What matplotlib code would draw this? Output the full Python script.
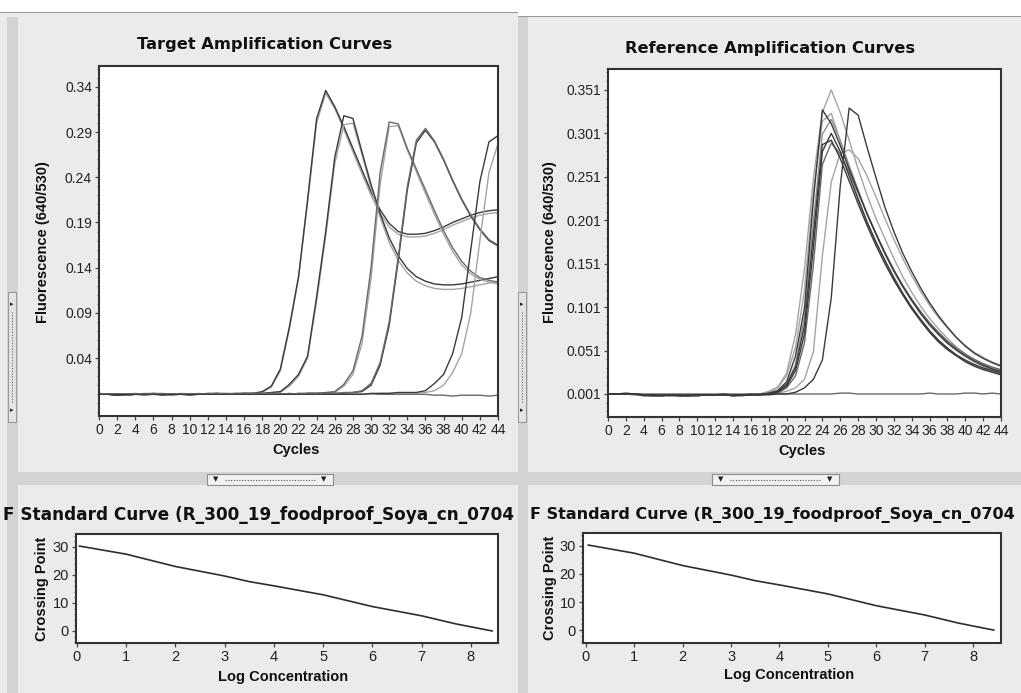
import matplotlib
matplotlib.use("Agg")
import matplotlib.pyplot as plt
from matplotlib.patches import Rectangle
from matplotlib.lines import Line2D
from matplotlib.ticker import FixedLocator, MultipleLocator, FormatStrFormatter
from matplotlib.transforms import Bbox, TransformedBbox

plt.rcParams['font.family'] = ['Liberation Sans', 'DejaVu Sans']

W, H = 1021, 693

# ---- data ----
cycles = list(range(45))

# Target amplification curves (fluorescence 640/530, one value per cycle 0..44)
t_pair1_dark = [0.000, 0.000, -0.001, -0.001, 0.000, 0.000, 0.001, 0.000, 0.000, 0.000, -0.001, 0.000, 0.000, 0.001, 0.000, 0.001, 0.001, 0.001,
                0.003, 0.009, 0.028, 0.075, 0.130, 0.215, 0.305, 0.336, 0.318, 0.296, 0.272, 0.248, 0.224, 0.204, 0.189, 0.180, 0.177,
                0.177, 0.178, 0.181, 0.185, 0.190, 0.194, 0.198, 0.201, 0.203, 0.204]
t_pair1_light = [0.001, 0.000, 0.000, -0.001, 0.000, 0.001, 0.001, 0.001, 0.000, 0.000, 0.000, 0.001, 0.000, 0.001, 0.001, 0.001, 0.001, 0.001,
                 0.002, 0.008, 0.026, 0.072, 0.128, 0.212, 0.300, 0.333, 0.316, 0.293, 0.268, 0.244, 0.220, 0.200, 0.185, 0.177, 0.174,
                 0.174, 0.175, 0.178, 0.182, 0.187, 0.191, 0.195, 0.198, 0.200, 0.201]
t_pair2_dark = [0.000, 0.000, -0.001, 0.000, 0.000, 0.000, 0.000, -0.001, 0.000, 0.000, 0.000, 0.000, 0.001, 0.001, 0.000, 0.000, 0.001, 0.001, 0.001, 0.002,
                0.003, 0.011, 0.022, 0.042, 0.108, 0.180, 0.262, 0.308, 0.305, 0.268, 0.232, 0.200, 0.173, 0.153, 0.139, 0.130, 0.125,
                0.122, 0.121, 0.121, 0.122, 0.124, 0.126, 0.128, 0.130]
t_pair2_light = [0.001, 0.000, 0.000, 0.000, 0.001, 0.000, 0.000, 0.000, 0.000, 0.001, 0.000, 0.000, 0.000, 0.001, 0.001, 0.000, 0.000, 0.001, 0.001, 0.001,
                 0.002, 0.009, 0.020, 0.040, 0.103, 0.175, 0.255, 0.298, 0.300, 0.265, 0.228, 0.196, 0.168, 0.148, 0.134, 0.125, 0.120,
                 0.117, 0.116, 0.116, 0.117, 0.119, 0.121, 0.123, 0.125]
t_pair3_mid = [0.000, 0.000, 0.000, 0.000, 0.000, -0.001, 0.000, 0.000, 0.000, 0.000, 0.000, 0.000, 0.000, 0.000, 0.000, 0.000, 0.001, 0.000, 0.000, 0.000,
               0.000, 0.001, 0.000, 0.001, 0.001, 0.002,
               0.003, 0.011, 0.026, 0.064, 0.140, 0.245, 0.301, 0.299, 0.272, 0.249, 0.226, 0.203, 0.181, 0.162, 0.147, 0.136, 0.129, 0.126, 0.124]
t_pair3_light = [0.001, 0.000, 0.000, 0.000, 0.000, 0.000, 0.001, 0.000, 0.000, 0.000, 0.000, 0.000, 0.000, 0.001, 0.000, 0.000, 0.000, 0.000, 0.000, 0.001,
                 0.000, 0.000, 0.001, 0.001, 0.001, 0.001,
                 0.002, 0.009, 0.022, 0.056, 0.128, 0.232, 0.296, 0.297, 0.270, 0.246, 0.222, 0.199, 0.177, 0.158, 0.143, 0.133, 0.127, 0.124, 0.122]
t_pair4_mid = [0.000, 0.000, 0.000, -0.001, 0.000, 0.000, 0.000, 0.000, 0.000, 0.000, 0.000, 0.000, 0.000, 0.000, 0.000, 0.000, 0.000, 0.001, 0.000, 0.000,
               0.000, 0.000, 0.001, 0.001, 0.001, 0.001, 0.001, 0.002, 0.002,
               0.004, 0.012, 0.035, 0.080, 0.152, 0.230, 0.281, 0.294, 0.280, 0.260, 0.237, 0.216, 0.198, 0.183, 0.171, 0.165]
t_pair4_dark = [0.000, 0.000, 0.000, 0.000, 0.000, 0.000, 0.000, 0.000, 0.000, 0.000, 0.000, 0.000, 0.000, 0.000, 0.000, 0.000, 0.000, 0.000, 0.000, 0.000,
                0.000, 0.000, 0.000, 0.001, 0.001, 0.001, 0.001, 0.001, 0.002,
                0.003, 0.010, 0.032, 0.076, 0.148, 0.226, 0.278, 0.292, 0.279, 0.259, 0.236, 0.215, 0.197, 0.182, 0.170, 0.164]
t_pair5_dark = [0.000, 0.000, 0.000, 0.000, 0.000, 0.000, 0.000, 0.000, 0.000, 0.000, 0.000, 0.000, 0.000, 0.000, 0.000, 0.000, 0.000, 0.000, 0.000, 0.000,
                0.000, 0.000, 0.000, 0.000, 0.000, 0.000, 0.000, 0.000, 0.000, 0.000, 0.001, 0.001, 0.001, 0.002, 0.002, 0.002,
                0.004, 0.012, 0.022, 0.045, 0.085, 0.160, 0.235, 0.279, 0.286]
t_pair5_light = [0.000, 0.000, 0.000, 0.000, 0.000, 0.000, 0.000, 0.000, 0.000, 0.000, 0.000, 0.000, 0.000, 0.000, 0.000, 0.000, 0.000, 0.000, 0.000, 0.000,
                 0.000, 0.000, 0.000, 0.000, 0.000, 0.000, 0.000, 0.000, 0.000, 0.000, 0.000, 0.001, 0.001, 0.001, 0.001, 0.001, 0.002,
                 0.004, 0.010, 0.024, 0.045, 0.090, 0.170, 0.245, 0.277]
t_negative = [0.000, 0.000, -0.001, -0.001, 0.000, 0.000, 0.000, 0.000, -0.001, 0.000, 0.000, 0.000, 0.000, 0.000, 0.000, 0.000, 0.000, 0.000, 0.000, 0.000,
              0.000, 0.000, 0.000, 0.000, 0.000, 0.000, 0.000, 0.000, 0.000, 0.000, 0.000, 0.000, 0.000, 0.000, 0.000, 0.000, 0.000,
              -0.001, -0.001, -0.002, -0.001, -0.001, -0.001, -0.002, -0.001]

# Reference amplification curves
r_early_light = [0.001, 0.001, 0.001, 0.000, -0.001, -0.001, 0.000, -0.001, -0.001, 0.000, -0.001, 0.000, 0.000, 0.000, 0.000, 0.000, 0.001, 0.001,
                 0.004, 0.009, 0.025, 0.070, 0.145, 0.250, 0.325, 0.351, 0.325, 0.293, 0.260, 0.230, 0.203, 0.180, 0.157, 0.136, 0.118,
                 0.102, 0.088, 0.076, 0.065, 0.055, 0.047, 0.040, 0.035, 0.031, 0.027]
r_early_dark = [0.001, 0.001, 0.002, 0.001, -0.001, -0.001, -0.001, 0.000, -0.001, -0.001, 0.000, 0.000, 0.000, 0.001, -0.001, 0.000, 0.001, 0.000,
                0.002, 0.005, 0.015, 0.045, 0.100, 0.225, 0.328, 0.312, 0.287, 0.260, 0.234, 0.208, 0.185, 0.163, 0.143, 0.125, 0.109,
                0.094, 0.081, 0.070, 0.060, 0.052, 0.045, 0.039, 0.034, 0.030, 0.027]
r_second_light = [0.001, 0.001, 0.001, 0.001, 0.000, -0.001, 0.000, 0.000, -0.001, 0.000, 0.000, 0.000, 0.001, 0.000, 0.000, 0.001, 0.001, 0.001,
                  0.003, 0.008, 0.022, 0.055, 0.120, 0.235, 0.315, 0.324, 0.292, 0.258, 0.227, 0.199, 0.175, 0.154, 0.134, 0.116, 0.100,
                  0.086, 0.073, 0.062, 0.053, 0.045, 0.039, 0.034, 0.030, 0.027, 0.024]
r_second_grey = [0.001, 0.001, 0.001, 0.000, 0.000, -0.001, -0.001, 0.000, 0.000, -0.001, 0.000, 0.000, 0.000, 0.000, -0.001, 0.000, 0.000, 0.001,
                 0.002, 0.004, 0.012, 0.035, 0.090, 0.200, 0.300, 0.317, 0.293, 0.264, 0.236, 0.209, 0.185, 0.162, 0.142, 0.124, 0.108,
                 0.093, 0.080, 0.069, 0.059, 0.051, 0.044, 0.038, 0.033, 0.029, 0.026]
r_mid_dark1 = [0.001, 0.001, 0.001, 0.001, 0.000, -0.001, -0.001, -0.001, -0.001, -0.001, -0.001, 0.000, 0.000, 0.000, -0.001, -0.001, 0.000, 0.000,
               0.001, 0.003, 0.010, 0.028, 0.070, 0.170, 0.280, 0.301, 0.280, 0.252, 0.225, 0.199, 0.176, 0.155, 0.135, 0.117, 0.101,
               0.087, 0.074, 0.063, 0.054, 0.046, 0.040, 0.035, 0.031, 0.028, 0.025]
r_mid_dark2 = [0.001, 0.001, 0.001, 0.001, 0.000, 0.000, -0.001, 0.000, -0.001, -0.001, -0.001, 0.000, 0.000, 0.000, -0.001, 0.000, 0.000, 0.001,
               0.001, 0.004, 0.012, 0.032, 0.080, 0.185, 0.288, 0.293, 0.272, 0.246, 0.220, 0.195, 0.172, 0.151, 0.132, 0.115, 0.099,
               0.085, 0.072, 0.061, 0.052, 0.045, 0.038, 0.033, 0.029, 0.026, 0.023]
r_mid_grey = [0.001, 0.001, 0.001, 0.001, 0.000, 0.000, 0.000, 0.000, 0.000, -0.001, 0.000, 0.000, 0.000, 0.000, 0.000, 0.000, 0.000, 0.000,
              0.001, 0.002, 0.008, 0.022, 0.060, 0.150, 0.265, 0.290, 0.277, 0.256, 0.233, 0.209, 0.186, 0.164, 0.144, 0.126, 0.110,
              0.096, 0.083, 0.072, 0.062, 0.054, 0.047, 0.041, 0.036, 0.032, 0.029]
r_late_light = [0.001, 0.001, 0.001, 0.001, 0.000, 0.000, 0.000, 0.000, 0.000, 0.000, 0.000, 0.000, 0.000, 0.000, 0.000, 0.000, 0.000, 0.000,
                0.001, 0.002, 0.004, 0.008, 0.018, 0.050, 0.160, 0.245, 0.278, 0.282, 0.272, 0.252, 0.228, 0.203, 0.179, 0.157, 0.137,
                0.119, 0.103, 0.089, 0.077, 0.066, 0.057, 0.049, 0.043, 0.038, 0.034]
r_late_dark = [0.001, 0.001, 0.001, 0.001, 0.000, 0.000, 0.000, 0.000, 0.000, 0.000, 0.000, 0.000, 0.000, 0.000, 0.000, 0.000, 0.000, 0.000,
               0.000, 0.001, 0.001, 0.003, 0.008, 0.018, 0.040, 0.112, 0.240, 0.330, 0.322, 0.285, 0.250, 0.216, 0.188, 0.163, 0.142,
               0.123, 0.106, 0.091, 0.078, 0.066, 0.056, 0.048, 0.042, 0.037, 0.033]
r_negative = [0.001, 0.001, 0.001, 0.001, 0.001, 0.001, 0.001, 0.001, 0.001, 0.001, 0.001, 0.001, 0.001, 0.001, 0.001, 0.001, 0.001, 0.001,
              0.001, 0.001, 0.001, 0.001, 0.001, 0.001, 0.001, 0.001, 0.002, 0.002, 0.001, 0.001, 0.001, 0.001, 0.001, 0.001, 0.001,
              0.001, 0.002, 0.001, 0.001, 0.001, 0.002, 0.002, 0.001, 0.002, 0.001]

# Standard curve (same in both panels)
log_conc = [0.05, 1.0, 2.0, 3.0, 3.5, 4.0, 5.0, 5.5, 6.0, 7.0, 7.7, 8.43]
crossing_point = [30.3, 27.4, 23.0, 19.6, 17.6, 16.1, 12.9, 10.8, 8.7, 5.4, 2.5, 0.0]

target_yticks = [0.04, 0.09, 0.14, 0.19, 0.24, 0.29, 0.34]
reference_yticks = [0.001, 0.051, 0.101, 0.151, 0.201, 0.251, 0.301, 0.351]
cycle_ticks = list(range(0, 45, 2))
std_xticks = [0, 1, 2, 3, 4, 5, 6, 7, 8]
std_yticks = [0, 10, 20, 30]

DARK, MID, LIGHT = '#3a3a3a', '#6a6a6a', '#a4a4a4'
PANEL, BAND = '#ebebeb', '#d3d3d3'

target_series = [(t_negative, MID), (t_pair1_light, LIGHT), (t_pair1_dark, DARK),
                 (t_pair2_light, LIGHT), (t_pair2_dark, DARK), (t_pair3_light, LIGHT),
                 (t_pair3_mid, MID), (t_pair4_dark, DARK), (t_pair4_mid, MID),
                 (t_pair5_light, LIGHT), (t_pair5_dark, DARK)]
reference_series = [(r_negative, MID), (r_early_light, LIGHT), (r_second_light, LIGHT),
                    (r_second_grey, '#909090'), (r_late_light, LIGHT), (r_mid_grey, MID),
                    (r_early_dark, DARK), (r_mid_dark1, DARK), (r_mid_dark2, DARK), (r_late_dark, DARK)]

fig = plt.figure(figsize=(W / 100, H / 100), dpi=100, facecolor=PANEL)


def add_ax(x0, y0, x1, y1):
    return fig.add_axes([x0 / W, 1 - y1 / H, (x1 - x0) / W, (y1 - y0) / H])


def rect(x0, y0, x1, y1, **kw):
    fig.add_artist(Rectangle((x0 / W, 1 - y1 / H), (x1 - x0) / W, (y1 - y0) / H,
                             transform=fig.transFigure, **kw))


def ftext(x, y, s, **kw):
    return fig.text(x / W, 1 - y / H, s, **kw)


def style(ax):
    ax.set_facecolor('white')
    for sp in ax.spines.values():
        sp.set_linewidth(1.5)
        sp.set_color('#333333')
    ax.tick_params(which='major', direction='out', length=3, width=0.9, color='#444444',
                   labelsize=10, pad=2, labelcolor='#222222')
    ax.tick_params(which='minor', direction='out', length=1.6, width=0.7, color='#666666')


# window chrome
rect(0, 0, W, 17, facecolor='white', edgecolor='none', zorder=0.5)
rect(0, 11.5, 518, 13, facecolor='#9a9a9a', edgecolor='none', zorder=0.6)
rect(518, 15.5, W, 17, facecolor='#9a9a9a', edgecolor='none', zorder=0.6)
rect(0, 13, 518, 17, facecolor=PANEL, edgecolor='none', zorder=0.6)
rect(7, 17, 18, H, facecolor=BAND, edgecolor='none', zorder=0.6)
rect(518, 17, 528, H, facecolor=BAND, edgecolor='none', zorder=5)
rect(18, 472, 518, 485, facecolor=BAND, edgecolor='none', zorder=0.6)
rect(528, 472, W, 485, facecolor=BAND, edgecolor='none', zorder=0.6)

# splitter handles
for x0, x1 in [(207, 333), (712, 839)]:
    rect(x0, 474, x1, 485, facecolor='#f1f1f1', edgecolor='#8c8c8c', linewidth=0.8, zorder=2)
    ftext(x0 + 9, 479.5, '\u25bc', fontsize=5, ha='center', va='center', color='#222222', family='DejaVu Sans', zorder=3)
    ftext(x1 - 9, 479.5, '\u25bc', fontsize=5, ha='center', va='center', color='#222222', family='DejaVu Sans', zorder=3)
    fig.add_artist(Line2D([(x0 + 18) / W, (x1 - 18) / W], [1 - 479.5 / H] * 2, transform=fig.transFigure,
                          color='#555555', lw=0.8, ls=(0, (1, 1.5)), zorder=3))
for x0, x1 in [(8, 16), (518, 526)]:
    rect(x0, 292, x1, 422, facecolor='#e4e4e4', edgecolor='#9a9a9a', linewidth=0.8, zorder=6)
    ftext((x0 + x1) / 2, 304, '\u25b8', fontsize=5, ha='center', va='center', color='#222222', family='DejaVu Sans', zorder=7)
    ftext((x0 + x1) / 2, 410, '\u25b8', fontsize=5, ha='center', va='center', color='#222222', family='DejaVu Sans', zorder=7)
    fig.add_artist(Line2D([(x0 + x1) / 2 / W] * 2, [1 - 312 / H, 1 - 402 / H], transform=fig.transFigure,
                          color='#666666', lw=0.8, ls=(0, (1, 1.5)), zorder=7))

# ---- top-left: target amplification ----
ax1 = add_ax(99, 66, 498, 416)
style(ax1)
for vals, col in target_series:
    ax1.plot(cycles, vals, color=col, lw=1.0)
ax1.set_xlim(0, 44)
ax1.set_ylim(-0.024, 0.363)
ax1.xaxis.set_major_locator(FixedLocator(cycle_ticks))
ax1.yaxis.set_major_locator(FixedLocator(target_yticks))
ax1.yaxis.set_major_formatter(FormatStrFormatter('%.2f'))
ax1.yaxis.set_minor_locator(MultipleLocator(0.01))

# ---- top-right: reference amplification ----
ax2 = add_ax(608, 69, 1001, 417)
style(ax2)
for vals, col in reference_series:
    ax2.plot(cycles, vals, color=col, lw=1.0)
ax2.set_xlim(0, 44)
ax2.set_ylim(-0.0255, 0.375)
ax2.xaxis.set_major_locator(FixedLocator(cycle_ticks))
ax2.yaxis.set_major_locator(FixedLocator(reference_yticks))
ax2.yaxis.set_major_formatter(FormatStrFormatter('%.3f'))
ax2.yaxis.set_minor_locator(MultipleLocator(0.01, offset=0.001))

# ---- bottom: standard curves ----
ax3 = add_ax(76, 534, 498, 643)
ax4 = add_ax(583, 533, 1001, 643)
for ax, xl, yl in [(ax3, (-0.02, 8.55), (-4.3, 34.6)), (ax4, (-0.06, 8.58), (-4.6, 34.6))]:
    style(ax)
    ax.plot(log_conc, crossing_point, color='#2e2e2e', lw=1.2)
    ax.set_xlim(*xl)
    ax.set_ylim(*yl)
    ax.xaxis.set_major_locator(FixedLocator(std_xticks))
    ax.yaxis.set_major_locator(FixedLocator(std_yticks))
    ax.yaxis.set_minor_locator(MultipleLocator(2))
    ax.tick_params(axis='both', which='major', labelsize=10.5)

# ---- texts ----
tfont = dict(family='DejaVu Sans', fontweight='bold', color='#111111')
lfont = dict(fontweight='bold', fontsize=10.5, color='#111111')
ftext(265, 45, 'Target Amplification Curves', fontsize=11.7, ha='center', va='center', **tfont)
ftext(770, 48, 'Reference Amplification Curves', fontsize=11.7, ha='center', va='center', **tfont)
t_left = ftext(3, 515, 'F Standard Curve (R_300_19_foodproof_Soya_cn_0704', fontsize=12.2, ha='left', va='center', **tfont)
t_left.set_clip_box(TransformedBbox(Bbox.from_extents(0, 0, 518 / W, 1), fig.transFigure))
t_left.set_clip_on(True)
ftext(530, 515, 'F Standard Curve (R_300_19_foodproof_Soya_cn_0704', fontsize=11.55, ha='left', va='center', **tfont)

ftext(43, 242, 'Fluorescence (640/530)', rotation=90, ha='center', va='center', **lfont)
ftext(550, 242, 'Fluorescence (640/530)', rotation=90, ha='center', va='center', **lfont)
ftext(296, 450, 'Cycles', ha='center', va='center', **lfont)
ftext(802, 451, 'Cycles', ha='center', va='center', **lfont)
ftext(42, 589, 'Crossing Point', rotation=90, ha='center', va='center', **lfont)
ftext(550, 588, 'Crossing Point', rotation=90, ha='center', va='center', **lfont)
ftext(283, 677, 'Log Concentration', ha='center', va='center', **lfont)
ftext(789, 675, 'Log Concentration', ha='center', va='center', **lfont)

fig.savefig('out.png', dpi=100, facecolor=fig.get_facecolor())
